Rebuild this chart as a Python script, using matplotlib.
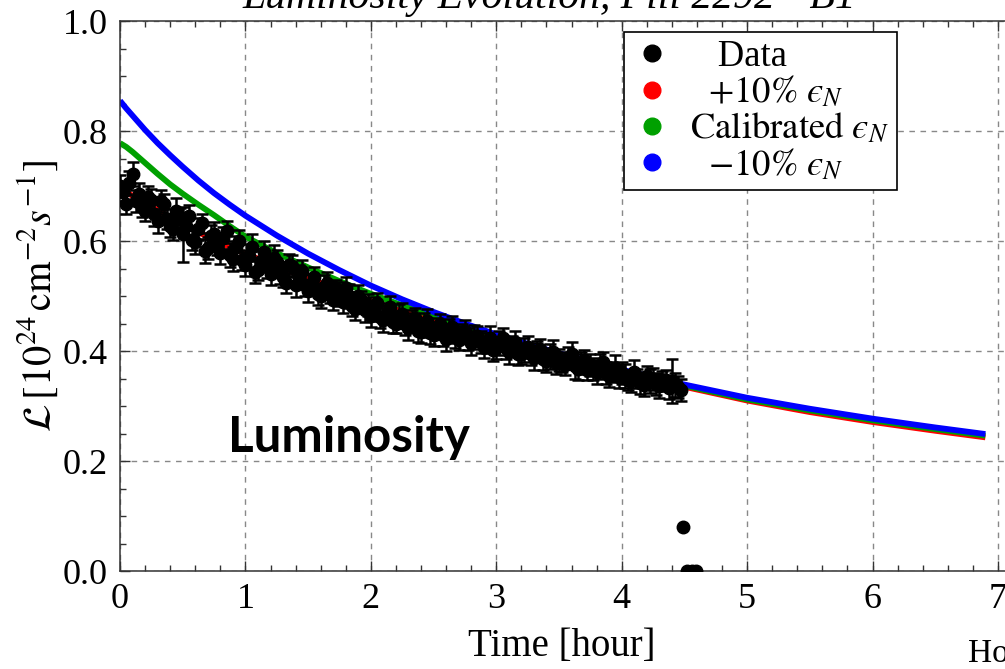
import numpy as np
import matplotlib.pyplot as plt
from matplotlib.lines import Line2D
from matplotlib.ticker import MultipleLocator

plt.rcParams['font.family'] = ['Liberation Serif', 'DejaVu Serif']
plt.rcParams['mathtext.fontset'] = 'stix'


t_data_a = [0.00, 0.05, 0.10, 0.15, 0.20, 0.25, 0.30, 0.35, 0.40, 0.45,
            0.50, 0.55, 0.60, 0.65, 0.70, 0.75, 0.80, 0.85, 0.90, 0.95,
            1.00, 1.05, 1.10, 1.15, 1.20, 1.25, 1.30, 1.35, 1.40, 1.45,
            1.50, 1.55, 1.60, 1.65, 1.70, 1.75, 1.80, 1.85, 1.90, 1.95,
            2.00, 2.05, 2.10, 2.15, 2.20, 2.25, 2.30, 2.35, 2.40, 2.45,
            2.50, 2.55, 2.60, 2.65, 2.70, 2.75, 2.80, 2.85, 2.90, 2.95,
            3.00, 3.05, 3.10, 3.15, 3.20, 3.25, 3.30, 3.35, 3.40, 3.45,
            3.50, 3.55, 3.60, 3.65, 3.70, 3.75, 3.80, 3.85, 3.90, 3.95,
            4.00, 4.05, 4.10, 4.15, 4.20, 4.25, 4.30, 4.35, 4.40, 4.45,
            4.49, 4.52, 4.56, 4.59]
lum_data_a = [0.700, 0.668, 0.722, 0.685, 0.655, 0.675, 0.636, 0.668, 0.628, 0.655,
              0.612, 0.645, 0.598, 0.632, 0.588, 0.612, 0.578, 0.618, 0.568, 0.600,
              0.556, 0.590, 0.548, 0.580, 0.540, 0.562, 0.534, 0.556, 0.520, 0.546,
              0.510, 0.534, 0.500, 0.524, 0.492, 0.504, 0.514, 0.482, 0.500, 0.474,
              0.464, 0.488, 0.457, 0.480, 0.450, 0.467, 0.442, 0.460, 0.434, 0.454,
              0.429, 0.450, 0.422, 0.444, 0.420, 0.436, 0.414, 0.428, 0.408, 0.424,
              0.406, 0.424, 0.398, 0.416, 0.394, 0.408, 0.388, 0.404, 0.382, 0.398,
              0.384, 0.375, 0.395, 0.368, 0.383, 0.375, 0.362, 0.380, 0.355, 0.370,
              0.360, 0.348, 0.362, 0.342, 0.354, 0.350, 0.336, 0.347, 0.345, 0.334,
              0.080, 0.000, 0.000, 0.000]
err_a = [0.020, 0.018, 0.022, 0.020, 0.018, 0.020, 0.022, 0.018, 0.020, 0.024,
         0.050, 0.020, 0.022, 0.018, 0.020, 0.022, 0.020, 0.018, 0.022, 0.020,
         0.020, 0.022, 0.018, 0.020, 0.020, 0.022, 0.018, 0.020, 0.022, 0.020,
         0.020, 0.018, 0.022, 0.020, 0.018, 0.022, 0.020, 0.018, 0.020, 0.022,
         0.020, 0.018, 0.022, 0.020, 0.018, 0.020, 0.022, 0.018, 0.020, 0.022,
         0.020, 0.018, 0.022, 0.020, 0.018, 0.020, 0.022, 0.018, 0.020, 0.022,
         0.020, 0.018, 0.022, 0.020, 0.018, 0.020, 0.022, 0.018, 0.020, 0.022,
         0.020, 0.018, 0.022, 0.020, 0.018, 0.020, 0.022, 0.018, 0.020, 0.022,
         0.020, 0.018, 0.022, 0.020, 0.018, 0.020, 0.022, 0.018, 0.040, 0.020,
         0.000, 0.000, 0.000, 0.000]

t_data_b = [0.025, 0.075, 0.125, 0.175, 0.225, 0.275, 0.325, 0.375, 0.425, 0.475,
            0.525, 0.575, 0.625, 0.675, 0.725, 0.775, 0.825, 0.875, 0.925, 0.975,
            1.025, 1.075, 1.125, 1.175, 1.225, 1.275, 1.325, 1.375, 1.425, 1.475,
            1.525, 1.575, 1.625, 1.675, 1.725, 1.775, 1.825, 1.875, 1.925, 1.975,
            2.025, 2.075, 2.125, 2.175, 2.225, 2.275, 2.325, 2.375, 2.425, 2.475,
            2.525, 2.575, 2.625, 2.675, 2.725, 2.775, 2.825, 2.875, 2.925, 2.975,
            3.025, 3.075, 3.125, 3.175, 3.225, 3.275, 3.325, 3.375, 3.425, 3.475,
            3.525, 3.575, 3.625, 3.675, 3.725, 3.775, 3.825, 3.875, 3.925, 3.975,
            4.025, 4.075, 4.125, 4.175, 4.225, 4.275, 4.325, 4.375, 4.425, 4.475]
lum_data_b = [0.690, 0.705, 0.672, 0.662, 0.680, 0.650, 0.672, 0.640, 0.622, 0.640,
              0.628, 0.602, 0.622, 0.582, 0.610, 0.592, 0.605, 0.574, 0.590, 0.566,
              0.572, 0.544, 0.564, 0.552, 0.570, 0.542, 0.524, 0.554, 0.534, 0.520,
              0.522, 0.504, 0.517, 0.507, 0.512, 0.490, 0.500, 0.477, 0.492, 0.484,
              0.477, 0.462, 0.470, 0.452, 0.464, 0.450, 0.457, 0.437, 0.447, 0.432,
              0.442, 0.430, 0.436, 0.426, 0.432, 0.421, 0.426, 0.416, 0.414, 0.402,
              0.415, 0.405, 0.410, 0.395, 0.402, 0.395, 0.400, 0.385, 0.390, 0.378,
              0.380, 0.388, 0.372, 0.378, 0.365, 0.368, 0.372, 0.360, 0.362, 0.352,
              0.355, 0.345, 0.350, 0.338, 0.345, 0.340, 0.345, 0.332, 0.338, 0.330]
err_b = [0.018, 0.022, 0.020, 0.018, 0.020, 0.022, 0.020, 0.018, 0.020, 0.020,
         0.022, 0.018, 0.020, 0.022, 0.020, 0.018, 0.020, 0.022, 0.020, 0.018,
         0.022, 0.020, 0.018, 0.020, 0.022, 0.020, 0.018, 0.020, 0.022, 0.020,
         0.018, 0.020, 0.022, 0.020, 0.018, 0.020, 0.022, 0.020, 0.018, 0.020,
         0.022, 0.020, 0.018, 0.020, 0.022, 0.020, 0.018, 0.020, 0.022, 0.020,
         0.018, 0.020, 0.022, 0.020, 0.018, 0.020, 0.022, 0.020, 0.018, 0.020,
         0.022, 0.020, 0.018, 0.020, 0.022, 0.020, 0.018, 0.020, 0.022, 0.020,
         0.018, 0.020, 0.022, 0.020, 0.018, 0.020, 0.022, 0.020, 0.018, 0.020,
         0.022, 0.020, 0.018, 0.020, 0.022, 0.020, 0.018, 0.020, 0.022, 0.020]

### Courbes du modele

t_fit = [0.0, 0.05, 0.1, 0.2, 0.3, 0.4, 0.5, 0.625, 0.75, 0.875, 1.0, 1.25, 1.5, 1.75,
         2.0, 2.25, 2.5, 2.75, 3.0, 3.5, 4.0, 4.5, 5.0, 5.5, 6.0, 6.5, 6.9]
lum_plus10 = [0.695, 0.689, 0.682, 0.669, 0.656, 0.643, 0.631, 0.616, 0.602, 0.589,
              0.577, 0.554, 0.532, 0.511, 0.491, 0.472, 0.455, 0.438, 0.422, 0.391,
              0.362, 0.335, 0.310, 0.289, 0.271, 0.255, 0.243]
lum_calib = [0.778, 0.771, 0.762, 0.742, 0.722, 0.703, 0.686, 0.666, 0.647, 0.627,
             0.608, 0.578, 0.552, 0.527, 0.504, 0.483, 0.463, 0.445, 0.428, 0.394,
             0.364, 0.337, 0.312, 0.292, 0.274, 0.258, 0.246]
lum_minus10 = [0.855, 0.841, 0.828, 0.802, 0.778, 0.756, 0.735, 0.710, 0.687, 0.666,
               0.646, 0.610, 0.577, 0.547, 0.519, 0.494, 0.471, 0.450, 0.430, 0.396,
               0.366, 0.339, 0.315, 0.295, 0.277, 0.261, 0.249]

labels = ["   Data", "  $+10\\%\\ \u03f5_N$", "$\\mathrm{Calibrated}\\ \u03f5_N$",
          "  $-10\\%\\ \u03f5_N$"]
couleurs = ["black", "#ff0000", "#00a000", "#0000ff"]


################# Plot #################

fig = plt.figure(figsize=(10.05, 6.69), dpi=100)
ax = fig.add_axes([120/1005, 98/669, 903/1005, 550/669])

ax.plot(t_fit, lum_plus10, color=couleurs[1], lw=4.2, solid_capstyle="butt", zorder=2)
ax.plot(t_fit, lum_calib, color=couleurs[2], lw=4.2, solid_capstyle="butt", zorder=2)
ax.plot(t_fit, lum_minus10, color=couleurs[3], lw=4.2, solid_capstyle="butt", zorder=2)

for tt, ll, ee in [(t_data_a, lum_data_a, err_a), (t_data_b, lum_data_b, err_b)]:
    ax.errorbar(tt, ll, yerr=ee, fmt="o", color="black", ms=9,
                ecolor="black", elinewidth=1.8, capsize=4, capthick=1.8, zorder=3)

ax.set_xlim(0, 7.2)
ax.set_ylim(0, 1.0)
ax.xaxis.set_minor_locator(MultipleLocator(0.2))
ax.yaxis.set_minor_locator(MultipleLocator(0.05))
ax.set_xticks(range(8))
ax.set_xticklabels([str(i) for i in range(8)])
ax.set_yticks([0.0, 0.2, 0.4, 0.6, 0.8, 1.0])
ax.set_yticklabels(["0.0", "0.2", "0.4", "0.6", "0.8", "1.0"])
ax.tick_params(which="both", direction="in", top=True, right=True, labelsize=26, color="#333333")
ax.tick_params(which="major", length=7, width=1, pad=9)
ax.tick_params(which="minor", length=4, width=1)
for s in ax.spines.values():
    s.set_color("#333333")
    s.set_linewidth(1.1)

ax.grid(True, which="major", color="#888888", ls=(0, (4, 4)), lw=1)
ax.set_axisbelow(True)

ax.set_xlabel("Time [hour]", fontsize=28, labelpad=8)
ax.xaxis.label.set_x((562 - 120) / 903)
ax.set_ylabel(r"$\mathcal{L}\,[10^{24}\,\mathrm{cm}^{-2}s^{-1}]$", fontsize=29, labelpad=2)

handles = [Line2D([], [], ls="", marker="o", ms=12, color=c) for c in couleurs]
leg = ax.legend(handles, labels, loc="upper left", bbox_to_anchor=(624/1005, 1-32/669),
                bbox_transform=fig.transFigure, borderaxespad=0, fontsize=26.5,
                fancybox=False, framealpha=1, edgecolor="black", labelspacing=0.04,
                handletextpad=0.5, handlelength=1.1, borderpad=0.2)
leg.get_frame().set_linewidth(1.2)

ax.text(0.86, 0.216, "Luminosity", fontsize=35.5, fontweight="bold", family="Lato",
        va="baseline", ha="left", zorder=5)

fig.text(549/1005, 1-8/669, "Luminosity Evolution, Fill 2292 - B1", fontsize=30,
         style="italic", ha="center", va="baseline")
fig.text(968/1005, 1-662/669, "Ho", fontsize=24, ha="left", va="baseline")

plt.savefig("out.png", dpi=100)
